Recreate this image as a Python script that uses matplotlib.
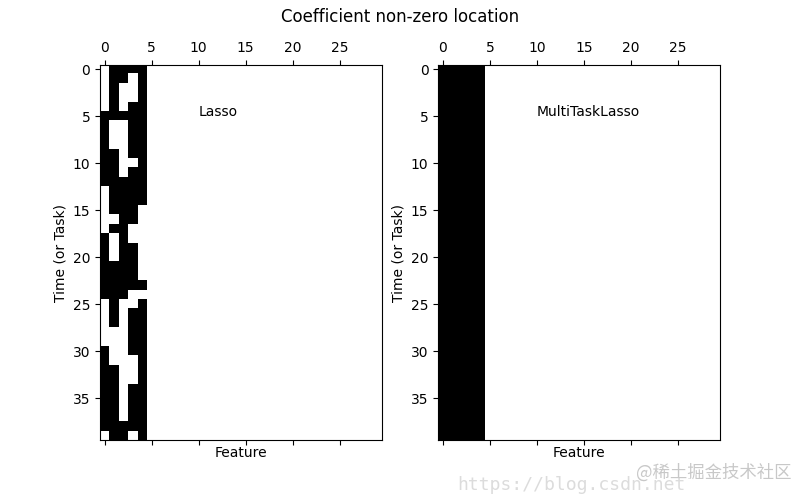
import numpy as np
import matplotlib.pyplot as plt

plt.rcParams['font.family'] = ['DejaVu Sans', 'Noto Sans CJK SC']

n_tasks = 40
n_features = 30

# non-zero pattern of the first 5 features for Lasso (rows = time/task)
lasso_rows = [
    [0, 1, 1, 1, 1], [0, 1, 1, 0, 1], [0, 1, 0, 0, 1], [0, 1, 0, 0, 1],
    [0, 1, 0, 1, 1], [1, 1, 1, 1, 1], [1, 0, 0, 1, 1], [1, 0, 0, 1, 1],
    [1, 0, 0, 1, 1], [1, 1, 0, 1, 1], [1, 1, 0, 0, 1], [1, 1, 0, 1, 1],
    [1, 1, 1, 1, 1], [0, 1, 1, 1, 1], [0, 1, 1, 1, 1], [0, 1, 1, 1, 0],
    [0, 0, 1, 1, 0], [0, 1, 1, 0, 0], [1, 0, 1, 0, 0], [1, 0, 1, 1, 0],
    [1, 0, 1, 1, 0], [1, 1, 1, 1, 0], [1, 1, 1, 1, 0], [1, 1, 1, 1, 1],
    [1, 1, 1, 0, 0], [0, 1, 0, 0, 1], [0, 1, 0, 1, 1], [0, 1, 0, 1, 1],
    [0, 0, 0, 1, 1], [0, 0, 0, 1, 1], [1, 0, 0, 1, 1], [1, 0, 0, 0, 1],
    [1, 1, 0, 0, 1], [1, 1, 0, 0, 1], [1, 1, 0, 1, 1], [1, 1, 0, 1, 1],
    [1, 1, 0, 1, 1], [1, 1, 0, 1, 1], [1, 1, 1, 1, 1], [0, 1, 1, 0, 1],
]
# MultiTaskLasso keeps the same 5 features for every task
multi_rows = [[1, 1, 1, 1, 1]] * n_tasks

coef_lasso = np.zeros((n_tasks, n_features))
coef_lasso[:, :5] = np.array(lasso_rows)
coef_multi = np.zeros((n_tasks, n_features))
coef_multi[:, :5] = np.array(multi_rows)

fig = plt.figure(figsize=(8, 5), dpi=100)

plt.subplot(1, 2, 1)
plt.spy(coef_lasso)
plt.xlabel('Feature', labelpad=0.4)
plt.ylabel('Time (or Task)')
plt.text(10, 5, 'Lasso')

plt.subplot(1, 2, 2)
plt.spy(coef_multi)
plt.xlabel('Feature', labelpad=0.4)
plt.ylabel('Time (or Task)')
plt.text(10, 5, 'MultiTaskLasso')

fig.suptitle('Coefficient non-zero location', y=0.984)

# watermarks
fig.text(0.572, 0.02, 'https://blog.csdn.net', family='DejaVu Sans Mono',
         fontsize=13, color='#dcdcdc')
fig.text(0.795, 0.045, '@稀土掘金技术社区', family=['Noto Sans CJK SC', 'DejaVu Sans'],
         fontsize=12.5, color='#c8c8c8')

plt.savefig('out.png', dpi=100)
